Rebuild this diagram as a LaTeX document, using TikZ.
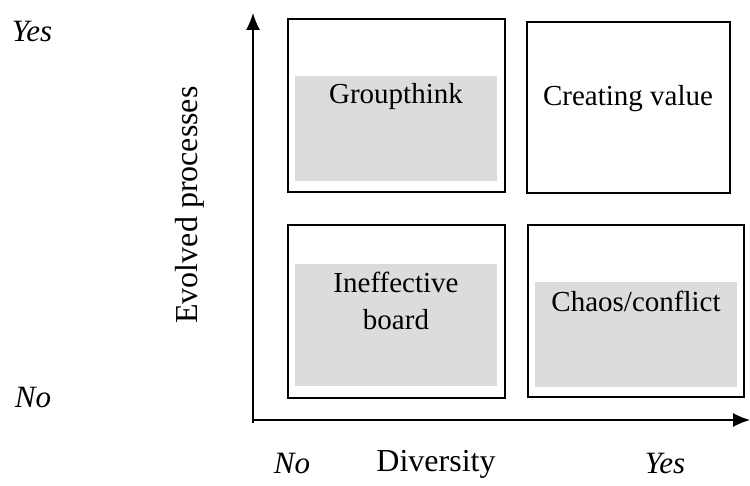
\documentclass[tikz,border=0pt]{standalone}
\usepackage{fontspec}
\setmainfont{Liberation Serif}
\usetikzlibrary{arrows.meta}
\definecolor{cellgray}{RGB}{220,220,220}
\tikzset{
quad/.style={line width=1.2pt},
shade/.style={fill=cellgray},
lab/.style={font=\fontsize{14.5}{18.5}\selectfont,align=center,inner sep=0pt},
axlab/.style={font=\fontsize{16}{19}\selectfont,inner sep=0pt},
yn/.style={font=\fontsize{15.5}{18}\selectfont\itshape,inner sep=0pt}
}
\begin{document}
\begin{tikzpicture}[x=0.5pt,y=-0.5pt]
\useasboundingbox (0,0) rectangle (750,486);
\coordinate (O) at (253,420);
\coordinate (ytop) at (253,13);
\coordinate (xend) at (750,420);
\draw[line width=0.6pt,-{Latex[length=8.5pt,width=7pt]}]([yshift=-1.5pt]O)--(ytop);
\draw[line width=0.6pt,-{Latex[length=8.5pt,width=7pt]}]([xshift=-0.5pt]O)--(xend);
\fill[shade](295,76) rectangle (497,181);
\fill[shade](295,264) rectangle (497,386);
\fill[shade](535,282) rectangle (737,387);
\draw[quad](288,19) rectangle (505,192);
\draw[quad](527,22) rectangle (730,193);
\draw[quad](288,225) rectangle (505,398);
\draw[quad](528,225) rectangle (744,397);
\node[lab](gt) at (396,97){Groupthink};
\node[lab](cv) at (628,99){Creating value};
\node[lab](ib) at (396,301){Ineffective\\board};
\node[lab](cc) at (636,301){Chaos/conflict};
\node[axlab,rotate=90](ev) at (190,205){Evolved processes};
\node[axlab](dv) at (436,464){Diversity};
\node[yn](yesy) at (32,32){Yes};
\node[yn](noy) at (33,398){No};
\node[yn](nox) at (292,464){No};
\node[yn](yesx) at (665,464){Yes};
\end{tikzpicture}
\end{document}
